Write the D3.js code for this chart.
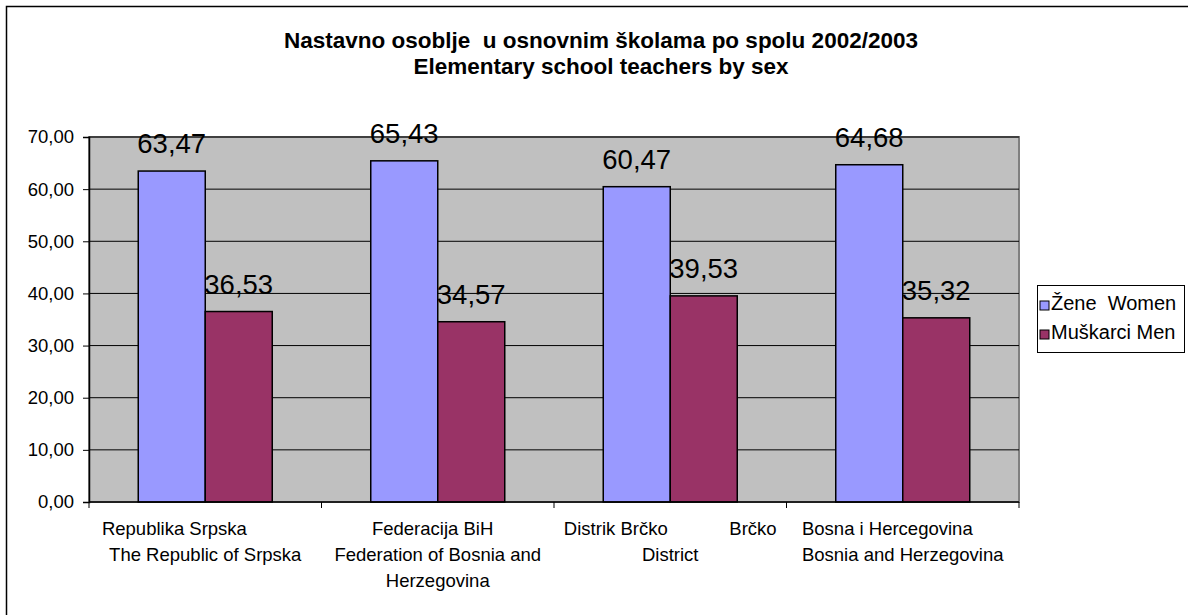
<!DOCTYPE html>
<html>
<head>
<meta charset="utf-8">
<script src="https://cdn.jsdelivr.net/npm/d3@7"></script>
<style>
  html, body { margin: 0; padding: 0; background: #fff; }
  svg { display: block; font-family: "Liberation Sans", Arial, sans-serif; }
</style>
</head>
<body>
<div id="chart"></div>
<script>
// data
const categories = ['RS', 'FBiH', 'BD', 'BiH'];
const categoryLines = [
  ['Republika Srpska            ', 'The Republic of Srpska'],
  ['Federacija BiH  ', 'Federation of Bosnia and', 'Herzegovina'],
  ['Distrik Brčko            Brčko', 'District'],
  ['Bosna i Hercegovina      ', 'Bosnia and Herzegovina'],
];
const seriesNames = ['Žene  Women', 'Muškarci Men'];
const women = [63.47, 65.43, 60.47, 64.68];
const men = [36.53, 34.57, 39.53, 35.32];
const yTicks = [0, 10, 20, 30, 40, 50, 60, 70];
const titleLines = [
  'Nastavno osoblje  u osnovnim školama po spolu 2002/2003',
  'Elementary school teachers by sex',
];

const COLORS = ['#9999ff', '#993366'];
const W = 1188, H = 615;
const P = { left: 89, right: 1019, top: 137, bottom: 502 };

const rows = categories.map((c, i) => ({ cat: c, lines: categoryLines[i], vals: [women[i], men[i]] }));
const fmt = v => d3.format('.2f')(v).replace('.', ',');

const svg = d3.select('#chart').append('svg')
  .attr('width', W).attr('height', H);

// chart area border (runs off the canvas right/bottom)
svg.append('rect')
  .attr('x', 6.5).attr('y', 6.5)
  .attr('width', W + 20).attr('height', H + 20)
  .attr('fill', '#fff')
  .attr('stroke', '#000').attr('stroke-width', 1.5);

// title
svg.append('g').selectAll('text')
  .data(titleLines)
  .join('text')
  .attr('x', 601).attr('y', (d, i) => 48 + i * 26)
  .attr('text-anchor', 'middle')
  .attr('font-size', 22.5).attr('font-weight', 'bold')
  .style('white-space', 'pre')
  .text(d => d);

const x0 = d3.scaleBand().domain(categories).range([P.left, P.right]);
const x1 = d3.scaleBand().domain([0, 1]).range([0, x0.bandwidth()]).paddingOuter(0.735);
const y = d3.scaleLinear().domain([0, 70]).range([P.bottom, P.top]);

// plot background
svg.append('rect')
  .attr('x', P.left).attr('y', P.top)
  .attr('width', P.right - P.left).attr('height', P.bottom - P.top)
  .attr('fill', '#c0c0c0')
  .attr('stroke', '#808080').attr('stroke-width', 2);

// gridlines
svg.append('g').selectAll('line')
  .data(yTicks.filter(d => d > 0))
  .join('line')
  .attr('x1', P.left).attr('x2', P.right)
  .attr('y1', d => y(d)).attr('y2', d => y(d))
  .attr('stroke', '#000').attr('stroke-width', 1);

// value labels (under the bars, like the reference)
const grp = svg.append('g').selectAll('g')
  .data(rows)
  .join('g')
  .attr('transform', d => `translate(${x0(d.cat)},0)`);

grp.selectAll('text')
  .data(d => d.vals.map((v, i) => ({ v, i })))
  .join('text')
  .attr('x', d => x1(d.i) + x1.bandwidth() / 2)
  .attr('y', d => y(d.v) - 18)
  .attr('text-anchor', 'middle')
  .attr('font-size', 27.5)
  .text(d => fmt(d.v));

// bars
grp.selectAll('rect')
  .data(d => d.vals.map((v, i) => ({ v, i })))
  .join('rect')
  .attr('x', d => x1(d.i))
  .attr('y', d => y(d.v))
  .attr('width', x1.bandwidth())
  .attr('height', d => y(0) - y(d.v))
  .attr('fill', d => COLORS[d.i])
  .attr('stroke', '#000').attr('stroke-width', 1.5);

// y axis
svg.append('g')
  .attr('transform', `translate(${P.left},0)`)
  .call(d3.axisLeft(y).tickValues(yTicks).tickFormat(fmt).tickSize(6).tickPadding(9))
  .call(ax => ax.select('.domain').attr('stroke', '#000').attr('stroke-width', 1.5))
  .call(ax => ax.selectAll('line').attr('stroke', '#000'))
  .call(ax => ax.selectAll('text')
    .attr('font-size', 18.5).attr('fill', '#000')
    .attr('font-family', '"Liberation Sans", Arial, sans-serif'));

// x axis line + ticks at category boundaries
const xAxisG = svg.append('g');
xAxisG.append('line')
  .attr('x1', P.left).attr('x2', P.right)
  .attr('y1', P.bottom).attr('y2', P.bottom)
  .attr('stroke', '#000').attr('stroke-width', 1.5);
xAxisG.selectAll('.tk')
  .data(categories.map(c => x0(c)).concat([P.right]))
  .join('line')
  .attr('class', 'tk')
  .attr('x1', d => d).attr('x2', d => d)
  .attr('y1', P.bottom).attr('y2', P.bottom + 6)
  .attr('stroke', '#000');

// category labels
const catText = svg.append('g').selectAll('text')
  .data(rows)
  .join('text')
  .attr('text-anchor', 'middle')
  .attr('font-size', 18.5)
  .style('white-space', 'pre');
catText.selectAll('tspan')
  .data(d => d.lines.map(l => ({ l, cx: x0(d.cat) + x0.bandwidth() / 2 })))
  .join('tspan')
  .attr('x', d => d.cx)
  .attr('y', (d, i) => 535 + i * 26)
  .text(d => d.l);

// legend
const leg = svg.append('g');
leg.append('rect')
  .attr('x', 1037.5).attr('y', 285.5)
  .attr('width', 147).attr('height', 67)
  .attr('fill', '#fff').attr('stroke', '#000').attr('stroke-width', 1);
const li = leg.selectAll('g.item')
  .data(seriesNames)
  .join('g')
  .attr('class', 'item')
  .attr('transform', (d, i) => `translate(1040,${301 + i * 29})`);
li.append('rect')
  .attr('width', 9).attr('height', 9)
  .attr('fill', (d, i) => COLORS[i])
  .attr('stroke', '#000').attr('stroke-width', 1);
li.append('text')
  .attr('x', 11).attr('y', 9)
  .attr('font-size', 20)
  .style('white-space', 'pre')
  .text(d => d);
</script>
</body>
</html>
